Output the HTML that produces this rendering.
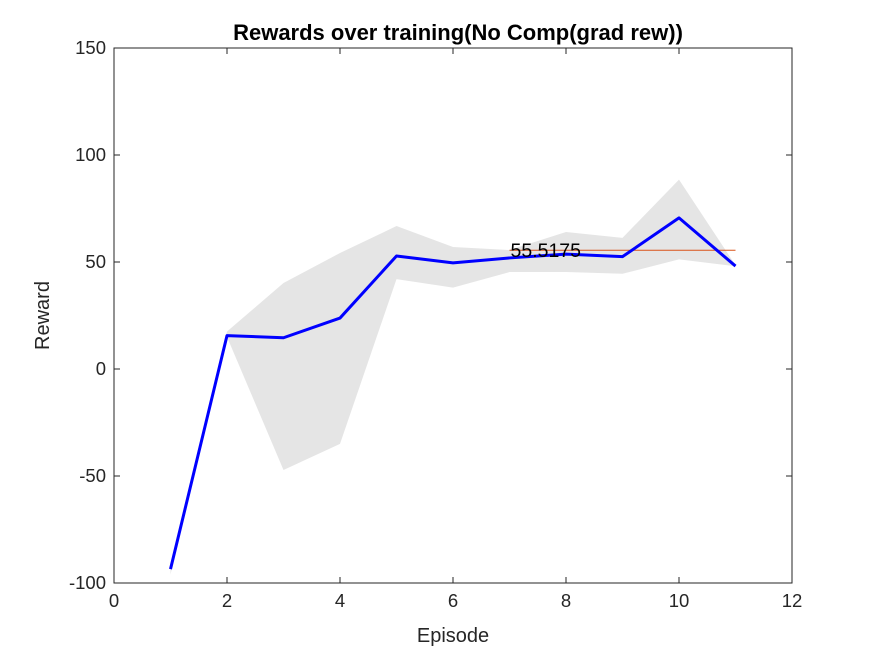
<!DOCTYPE html>
<html><head><meta charset="utf-8"><style>
body{margin:0;background:#fff;}
svg{display:block;font-family:"Liberation Sans",sans-serif;}
</style></head><body>
<svg id="chart" width="875" height="656"></svg>
<script>
const episodes=[1,2,3,4,5,6,7,8,9,10,11];
const rewards=[-93.5,15.6,14.6,23.8,52.8,49.6,51.9,53.7,52.5,70.6,48.1];
const upper=[-92,17.5,40.2,54.2,66.8,57,55.6,64,61.3,88.5,48.5];
const lower=[-96,15,-47.2,-35,42,38,45.3,45.3,44.5,51.2,48];
const meanValue=55.5175;
const meanStart=7, meanEnd=11;
const xTicks=[0,2,4,6,8,10,12];
const yTicks=[-100,-50,0,50,100,150];
const NS='http://www.w3.org/2000/svg';
const svg=document.getElementById('chart');
const L=114,R=792,T=48,B=583;
const xs=v=>L+(v-0)/12*(R-L);
const ys=v=>B-(v+100)/250*(B-T);
function mk(tag,attrs,parent){const e=document.createElementNS(NS,tag);for(const k in attrs)e.setAttribute(k,attrs[k]);(parent||svg).appendChild(e);return e;}
const bg=mk('rect',{x:L,y:T,width:R-L,height:B-T,fill:'#fff'});


let pts=episodes.map((x,i)=>xs(x)+','+ys(upper[i]));
pts=pts.concat(episodes.map((x,i)=>xs(x)+','+ys(lower[i])).reverse());
const band=mk('polygon',{points:pts.join(' '),fill:'#e5e5e5'});


const ml=mk('line',{x1:xs(meanStart),x2:xs(meanEnd),y1:ys(meanValue),y2:ys(meanValue),stroke:'#d95319','stroke-width':1});


const line=mk('polyline',{points:episodes.map((x,i)=>xs(x)+','+ys(rewards[i])).join(' '),fill:'none',stroke:'#0000ff','stroke-width':3,'stroke-linejoin':'round'});


const mt=mk('text',{x:xs(meanStart)+1,y:ys(meanValue)+7,'font-size':19.5,fill:'#000'});
mt.textContent=meanValue.toFixed(4);


const box=mk('rect',{x:L,y:T,width:R-L,height:B-T,fill:'none',stroke:'#262626','stroke-width':1});


xTicks.forEach(t=>{
  const x=xs(t);
  mk('line',{x1:x,x2:x,y1:B,y2:B-6,stroke:'#262626'});
  mk('line',{x1:x,x2:x,y1:T,y2:T+6,stroke:'#262626'});
  const tx=mk('text',{x:x,y:B+24,'font-size':18.5,'text-anchor':'middle',fill:'#262626'});
  tx.textContent=t;
  
  
});
yTicks.forEach(t=>{
  const y=ys(t);
  mk('line',{x1:L,x2:L+6,y1:y,y2:y,stroke:'#262626'});
  mk('line',{x1:R,x2:R-6,y1:y,y2:y,stroke:'#262626'});
  const tx=mk('text',{x:L-8,y:y+6,'font-size':18.5,'text-anchor':'end',fill:'#262626'});
  tx.textContent=t;
  
  
});
const xt=mk('text',{x:(L+R)/2,y:642,'font-size':20,'text-anchor':'middle',fill:'#262626'});
xt.textContent='Episode';


const yt=mk('text',{x:0,y:0,'font-size':20,'text-anchor':'middle',fill:'#262626',transform:'translate(49,'+((T+B)/2)+') rotate(-90)'});
yt.textContent='Reward';


const ti=mk('text',{x:(L+R)/2+5,y:40,'font-size':22,'font-weight':'bold','text-anchor':'middle',fill:'#000'});
ti.textContent='Rewards over training(No Comp(grad rew))';


</script>
</body></html>
